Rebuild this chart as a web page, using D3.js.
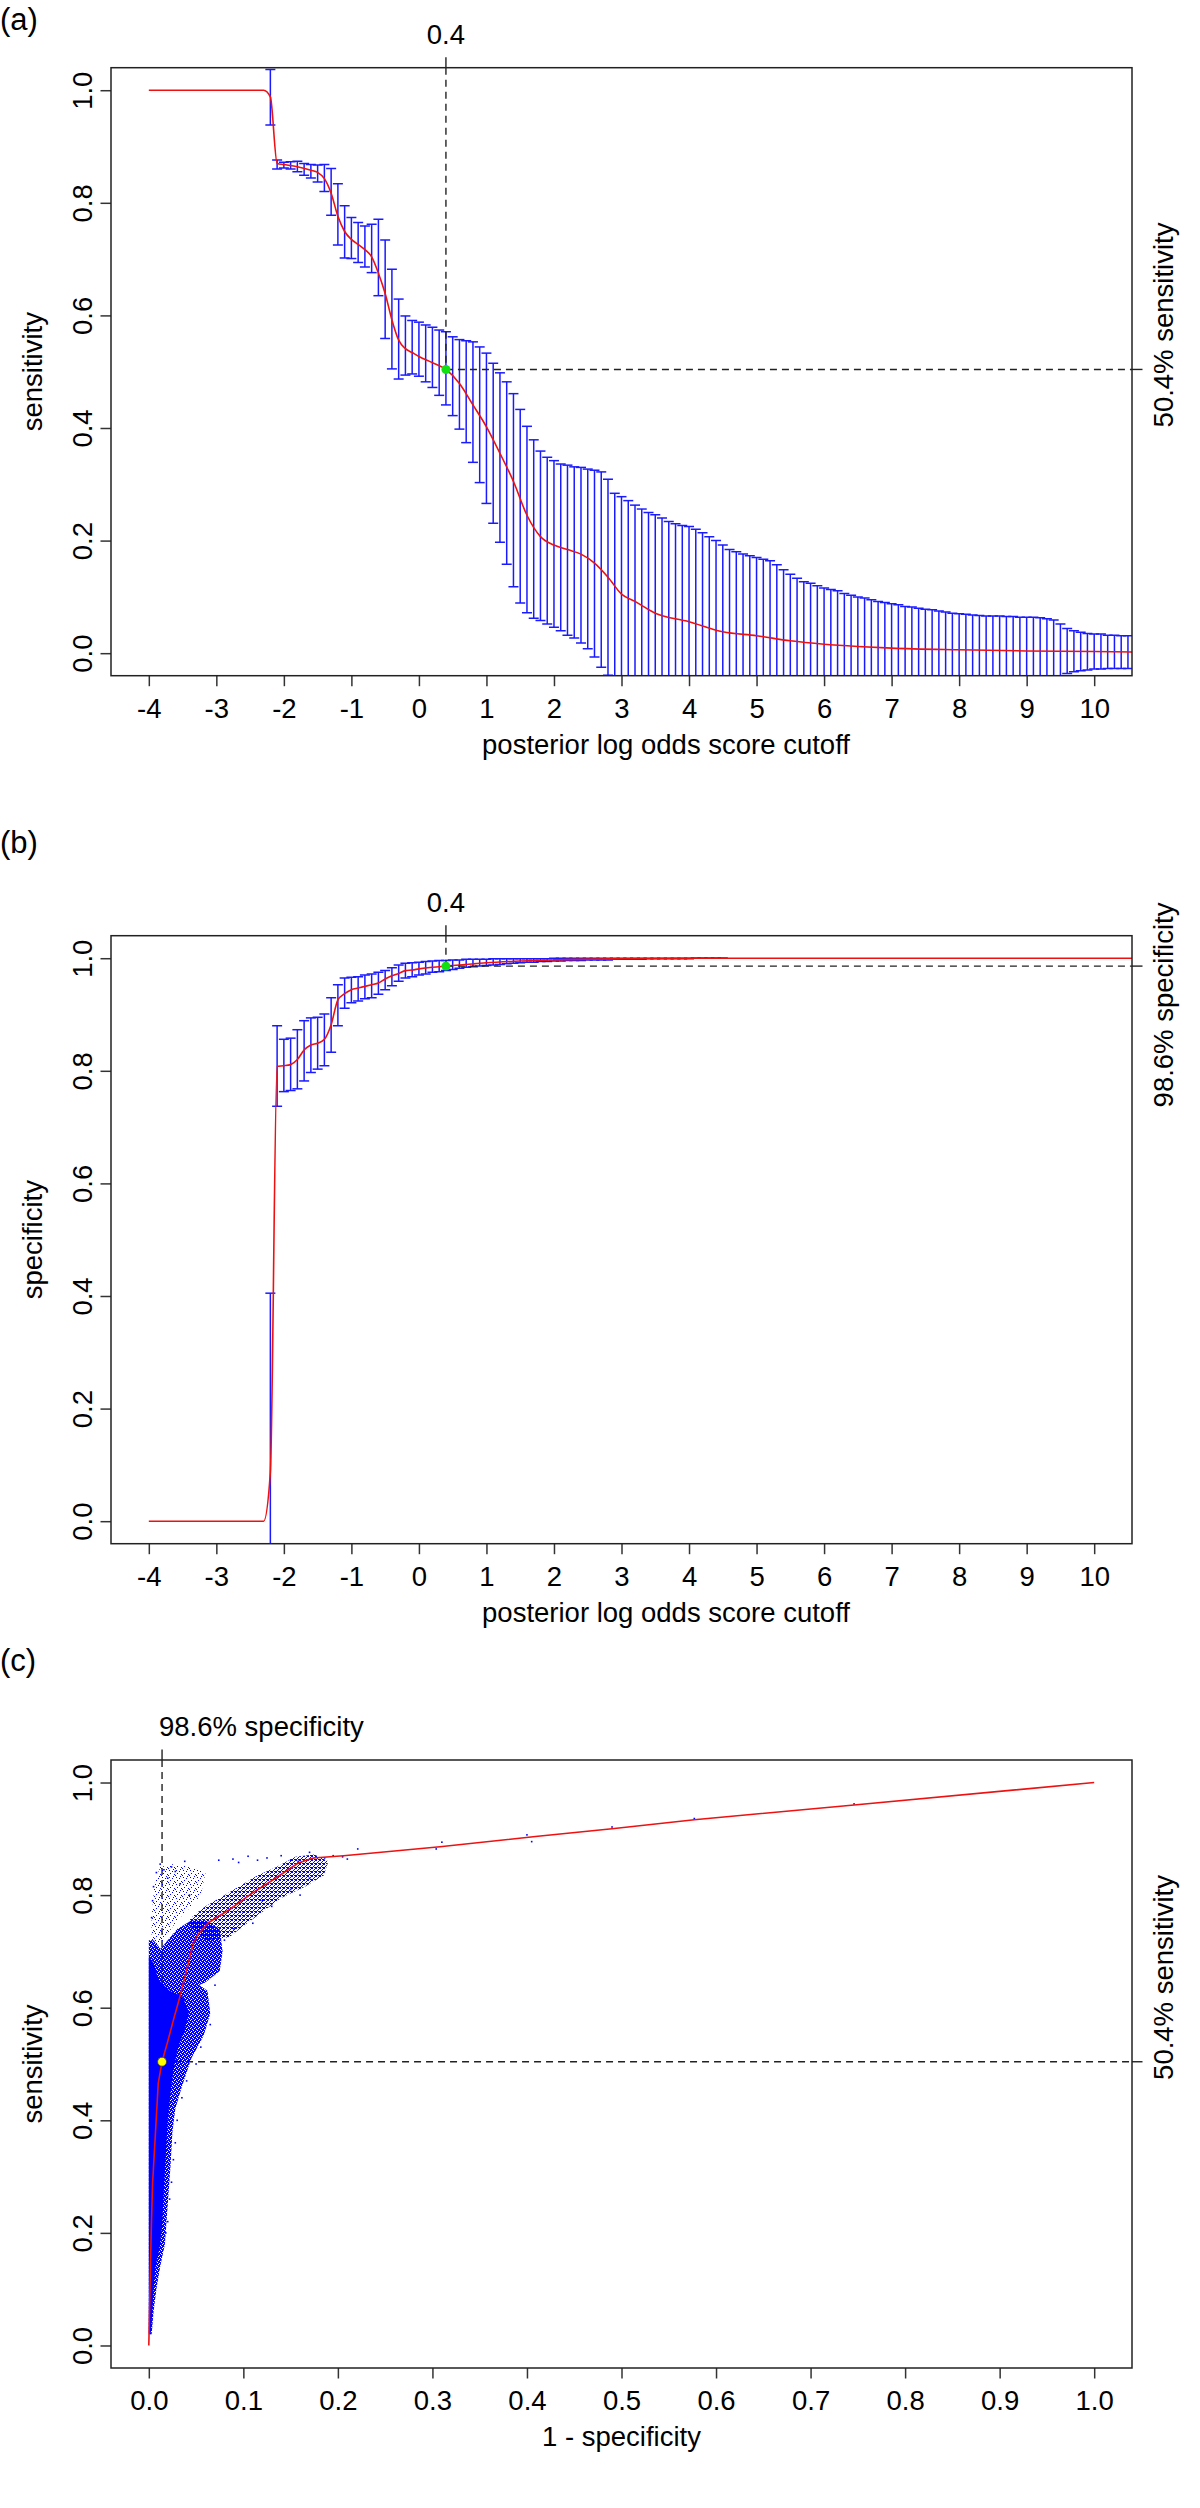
<!DOCTYPE html>
<html><head><meta charset="utf-8">
<script src="https://cdn.jsdelivr.net/npm/d3@7"></script>
<style>body{margin:0;background:#fff} svg{display:block}</style>
</head><body><svg id="chart" width="1200" height="2508"></svg>
<script>
// ---------------- DATA ----------------
// Panel (a): sensitivity vs posterior log odds cutoff
const cutA = [-2.2,-2.1,-2.0,-1.9,-1.8,-1.7,-1.6,-1.5,-1.4,-1.3,-1.2,-1.1,-1.0,-0.9,-0.8,-0.7,-0.6,-0.5,-0.4,-0.3,-0.2,-0.1,0.0,0.1,0.2,0.3,0.4,0.5,0.6,0.7,0.8,0.9,1.0,1.1,1.2,1.3,1.4,1.5,1.6,1.7,1.8,1.9,2.0,2.1,2.2,2.3,2.4,2.5,2.6,2.7,2.8,2.9,3.0,3.1,3.2,3.3,3.4,3.5,3.6,3.7,3.8,3.9,4.0,4.1,4.2,4.3,4.4,4.5,4.6,4.7,4.8,4.9,5.0,5.1,5.2,5.3,5.4,5.5,5.6,5.7,5.8,5.9,6.0,6.1,6.2,6.3,6.4,6.5,6.6,6.7,6.8,6.9,7.0,7.1,7.2,7.3,7.4,7.5,7.6,7.7,7.8,7.9,8.0,8.1,8.2,8.3,8.4,8.5,8.6,8.7,8.8,8.9,9.0,9.1,9.2,9.3,9.4,9.5,9.6,9.7,9.8,9.9,10.0,10.1,10.2,10.3,10.4,10.5];
const upperA = [1.037,0.876,0.872,0.873,0.874,0.870,0.868,0.867,0.868,0.861,
 0.834,0.795,0.774,0.765,0.759,0.762,0.771,0.734,0.682,0.629,
 0.599,0.591,0.588,0.583,0.579,0.574,0.571,0.562,0.557,0.555,
 0.553,0.544,0.533,0.515,0.498,0.482,0.461,0.433,0.403,0.379,
 0.359,0.348,0.342,0.336,0.334,0.331,0.330,0.327,0.325,0.322,
 0.309,0.284,0.278,0.271,0.263,0.256,0.250,0.246,0.240,0.234,
 0.230,0.227,0.225,0.220,0.214,0.207,0.200,0.192,0.184,0.180,
 0.176,0.173,0.170,0.167,0.164,0.157,0.148,0.140,0.133,0.127,
 0.124,0.120,0.116,0.113,0.111,0.106,0.103,0.100,0.098,0.095,
 0.092,0.090,0.088,0.086,0.083,0.082,0.080,0.078,0.077,0.075,
 0.073,0.071,0.070,0.069,0.068,0.067,0.066,0.066,0.066,0.065,
 0.065,0.064,0.064,0.064,0.063,0.061,0.059,0.052,0.044,0.040,
 0.037,0.035,0.034,0.034,0.032,0.032,0.031,0.031];
const lowerA = [0.938,0.860,0.862,0.860,0.855,0.849,0.844,0.837,0.820,0.778,
 0.725,0.702,0.701,0.694,0.686,0.676,0.635,0.559,0.505,0.487,
 0.494,0.496,0.492,0.482,0.472,0.458,0.441,0.422,0.398,0.374,
 0.339,0.303,0.266,0.231,0.197,0.158,0.118,0.089,0.072,0.062,
 0.058,0.052,0.046,0.040,0.032,0.027,0.018,0.008,-0.007,-0.025,
 -0.039,-0.048,-0.068,-0.075,-0.079,-0.086,-0.094,-0.104,-0.106,-0.108,
 -0.110,-0.111,-0.113,-0.115,-0.116,-0.117,-0.118,-0.116,-0.112,-0.112,
 -0.110,-0.109,-0.108,-0.107,-0.108,-0.105,-0.100,-0.096,-0.091,-0.087,
 -0.088,-0.086,-0.084,-0.083,-0.081,-0.078,-0.077,-0.076,-0.076,-0.073,
 -0.072,-0.070,-0.070,-0.069,-0.067,-0.067,-0.066,-0.065,-0.065,-0.064,
 -0.063,-0.062,-0.061,-0.061,-0.061,-0.060,-0.060,-0.060,-0.060,-0.060,
 -0.060,-0.060,-0.060,-0.060,-0.059,-0.058,-0.056,-0.050,-0.036,-0.033,
 -0.031,-0.030,-0.028,-0.028,-0.027,-0.027,-0.027,-0.027];
const meanXA = [-4.0,-2.3,-2.2,-2.1,-2.0,-1.8,-1.6,-1.5,-1.4,-1.3,-1.2,-1.1,-1.0,-0.9,-0.8,-0.7,-0.6,-0.5,-0.4,-0.3,-0.2,-0.1,0.0,0.2,0.4,0.6,0.8,1.0,1.2,1.4,1.6,1.8,2.0,2.2,2.4,2.6,2.8,3.0,3.2,3.5,4.0,4.5,5.0,5.5,6.0,6.5,7.0,8.0,9.0,10.0,10.56];
const meanYA = [1.0,1.0,0.988,0.870,0.868,0.864,0.858,0.854,0.843,0.817,0.776,0.749,0.735,0.726,0.717,0.704,0.675,0.639,0.592,0.556,0.541,0.534,0.527,0.516,0.504,0.479,0.441,0.402,0.355,0.305,0.245,0.207,0.192,0.184,0.176,0.160,0.135,0.105,0.092,0.071,0.056,0.038,0.031,0.022,0.016,0.012,0.009,0.006,0.004,0.003,0.002];

// Panel (b): specificity vs posterior log odds cutoff
const cutB = [-2.2,-2.1,-2.0,-1.9,-1.8,-1.7,-1.6,-1.5,-1.4,-1.3,-1.2,-1.1,-1.0,-0.9,-0.8,-0.7,-0.6,-0.5,-0.4,-0.3,-0.2,-0.1,0.0,0.1,0.2,0.3,0.4,0.5,0.6,0.7,0.8,0.9,1.0,1.1,1.2,1.3,1.4,1.5,1.6,1.7,1.8,1.9,2.0,2.1,2.2,2.3,2.4,2.5,2.6,2.7,2.8,2.9,3.0,3.1,3.2,3.3,3.4,3.5,3.6,3.7,3.8,3.9,4.0,4.1,4.2,4.3,4.4,4.5];
const upperB = [0.405,0.880,0.856,0.858,0.873,0.889,0.894,0.895,0.901,0.930,
 0.953,0.965,0.966,0.967,0.970,0.972,0.975,0.978,0.983,0.988,
 0.991,0.992,0.993,0.994,0.995,0.996,0.996,0.997,0.997,0.998,
 0.998,0.998,0.998,0.999,0.999,0.999,0.999,0.999,0.999,0.999,
 0.999,0.999,1.0,1.0,1.0,1.0,1.0,1.0,1.0,1.0,
 1.0,1.0,1.0,1.0,1.0,1.0,1.0,1.0,1.0,1.0,
 1.0,1.0,1.0,1.0,1.0,1.0,1.0,1.0];
const lowerB = [-0.100,0.737,0.763,0.765,0.768,0.782,0.797,0.803,0.809,0.833,
 0.880,0.911,0.921,0.924,0.928,0.930,0.936,0.944,0.951,0.959,
 0.965,0.967,0.970,0.972,0.975,0.976,0.978,0.980,0.982,0.984,
 0.985,0.986,0.987,0.988,0.989,0.990,0.991,0.992,0.993,0.993,
 0.994,0.994,0.995,0.995,0.996,0.996,0.996,0.997,0.997,0.997,
 0.997,0.998,0.998,0.998,0.998,0.998,0.999,0.999,0.999,0.999,
 0.999,0.999,0.999,1.0,1.0,1.0,1.0,1.0];
const meanXB = [-4.0,-2.3,-2.2,-2.1,-2.0,-1.9,-1.8,-1.7,-1.6,-1.5,-1.4,-1.3,-1.2,-1.1,-1.0,-0.9,-0.8,-0.7,-0.6,-0.5,-0.4,-0.3,-0.2,-0.1,0.0,0.2,0.4,0.6,0.8,1.0,1.5,2.0,3.0,4.0,10.56];
const meanYB = [0,0,0.087,0.808,0.809,0.811,0.820,0.837,0.846,0.849,0.856,0.882,0.926,0.937,0.944,0.947,0.950,0.953,0.956,0.963,0.969,0.973,0.978,0.979,0.981,0.984,0.986,0.988,0.990,0.992,0.995,0.997,0.999,1.0,1.0];

// Panel (c): ROC curve (1 - specificity, sensitivity)
const rocFpr  = [0,0.001,0.0025,0.004,0.007,0.010,0.014,0.020,0.026,0.032,0.040,0.047,0.053,0.063,0.085,0.109,0.134,0.158,0.174,0.206,0.308,0.409,0.490,0.577,0.746,1.0];
const rocSens = [0,0.081,0.200,0.288,0.377,0.466,0.504,0.540,0.578,0.614,0.667,0.715,0.732,0.751,0.774,0.803,0.830,0.857,0.866,0.870,0.886,0.904,0.918,0.934,0.960,1.0];
// bootstrap ROC cloud: outlines of the solid core, dense / medium / sparse point regions, plus stray points
const cloudSolid = [[0,0.02],[0.002,0.02],[0.003,0.04],[0.005,0.10],[0.007,0.14],[0.011,0.17],[0.014,0.21],[0.016,0.28],[0.018,0.34],[0.020,0.40],[0.023,0.45],[0.026,0.49],[0.031,0.53],[0.038,0.56],[0.042,0.59],[0.036,0.62],[0.022,0.63],[0.010,0.65],[0.005,0.68],[0,0.69]];
const cloudDense1 = [[0,0.02],[0.003,0.02],[0.005,0.06],[0.008,0.10],[0.012,0.14],[0.017,0.18],[0.020,0.25],[0.023,0.32],[0.025,0.38],[0.028,0.42],[0.035,0.46],[0.045,0.51],[0.058,0.55],[0.065,0.59],[0.062,0.63],[0.045,0.65],[0.030,0.67],[0.015,0.70],[0.005,0.72],[0,0.72]];
const cloudBlob = [[0.005,0.64],[0.040,0.63],[0.060,0.645],[0.075,0.665],[0.078,0.70],[0.075,0.74],[0.060,0.755],[0.045,0.755],[0.030,0.74],[0.020,0.72],[0.010,0.70]];
const cloudBand = [[0.060,0.72],[0.085,0.725],[0.100,0.745],[0.120,0.77],[0.140,0.795],[0.165,0.815],[0.185,0.835],[0.190,0.86],[0.175,0.872],[0.155,0.868],[0.135,0.85],[0.115,0.835],[0.095,0.815],[0.075,0.795],[0.060,0.78],[0.048,0.765],[0.040,0.75]];
const cloudSparse = [[0.003,0.70],[0.015,0.72],[0.030,0.755],[0.045,0.78],[0.055,0.80],[0.060,0.84],[0.045,0.85],[0.025,0.855],[0.012,0.85],[0.006,0.82],[0.003,0.76]];
const cloudPoints = [[0.005,0.815],[0.008,0.84],[0.012,0.855],[0.016,0.845],[0.020,0.83],[0.024,0.85],[0.028,0.842],[0.033,0.82],[0.038,0.86],[0.043,0.80],[0.003,0.76],[0.004,0.79],
 [0.074,0.862],[0.089,0.864],[0.095,0.858],[0.105,0.869],[0.115,0.862],[0.125,0.866],[0.140,0.870],[0.150,0.862],[0.158,0.860],[0.170,0.876],[0.186,0.866],[0.195,0.870],[0.205,0.868],[0.210,0.864],[0.221,0.882],
 [0.304,0.882],[0.310,0.894],[0.400,0.907],[0.405,0.895],[0.490,0.921],[0.577,0.936],[0.746,0.962],
 [0.100,0.770],[0.120,0.790],[0.080,0.720],[0.090,0.740],[0.110,0.750],[0.130,0.780],[0.150,0.810],[0.160,0.800],[0.170,0.830],[0.060,0.600],[0.065,0.570],[0.070,0.640],[0.055,0.530],[0.050,0.500],[0.040,0.470],[0.035,0.440],[0.030,0.400],[0.028,0.360],[0.026,0.330],[0.024,0.290],[0.022,0.260],[0.020,0.220],[0.018,0.200]];

// Cutoff summary
const chosenCutoff = 0.4, chosenSens = 0.504, chosenSpec = 0.986;
const xTicksCut = [-4,-3,-2,-1,0,1,2,3,4,5,6,7,8,9,10];
const yTicks = [0,0.2,0.4,0.6,0.8,1.0];
const xTicksRoc = [0,0.1,0.2,0.3,0.4,0.5,0.6,0.7,0.8,0.9,1.0];

// ---------------- DRAWING ----------------
const FONT = '"Liberation Sans", Arial, Helvetica, sans-serif';
const FS = 27.5;
const svg = d3.select("#chart").style("font-family", FONT);
svg.append("rect").attr("width",1200).attr("height",2508).attr("fill","#fff");
const defs = svg.append("defs");
function pattern(id, size, dots){
  const p = defs.append("pattern").attr("id",id).attr("patternUnits","userSpaceOnUse").attr("width",size).attr("height",size);
  dots.forEach(([dx,dy]) => p.append("rect").attr("x",dx).attr("y",dy).attr("width",1).attr("height",1)
    .attr("fill","#0000ff").attr("shape-rendering","crispEdges"));
}
pattern("pDense", 4, [[0,0],[1,0],[3,0],[1,1],[2,1],[3,1],[0,2],[2,2],[3,2],[0,3],[1,3],[2,3]]);
pattern("pMed", 4, [[0,0],[2,1],[3,0],[1,2],[3,3],[0,3],[2,3]]);
pattern("pSparse", 7, [[1,1],[4,2],[2,4],[6,5],[5,0],[0,6]]);

const PL = 111, PR = 1132, PH = 608, TICK = 10.5;
const BLUE = "#1a1aff", RED = "#ee1111";

function panel(top, xd, yd, id){
  const x = d3.scaleLinear().domain(xd).range([PL, PR]);
  const y = d3.scaleLinear().domain(yd).range([top+PH, top]);
  defs.append("clipPath").attr("id", id).append("rect").attr("x",PL).attr("y",top).attr("width",PR-PL).attr("height",PH);
  const g = svg.append("g");
  const under = g.append("g").attr("clip-path",`url(#${id})`);
  const plot = g.append("g").attr("clip-path",`url(#${id})`);
  return {x,y,g,plot,under,top};
}

function axes(P, xTicks, xFmt, xTitle, xTitleX, yTitle){
  const {x,y,g,top} = P, bottom = top+PH;
  const ax = g.append("g").attr("transform",`translate(0,${bottom})`)
    .call(d3.axisBottom(x).tickValues(xTicks).tickFormat(xFmt).tickSize(TICK).tickSizeOuter(0));
  ax.attr("font-size",FS).attr("font-family",FONT);
  ax.select(".domain").remove();
  ax.selectAll("line").attr("stroke","#333").attr("stroke-width",1.5);
  ax.selectAll("text").attr("y",42).attr("dy",null).attr("fill","#000");
  const ay = g.append("g").attr("transform",`translate(${PL},0)`)
    .call(d3.axisLeft(y).tickValues(yTicks).tickFormat(d3.format(".1f")).tickSize(TICK).tickSizeOuter(0));
  ay.attr("font-size",FS).attr("font-family",FONT);
  ay.select(".domain").remove();
  ay.selectAll("line").attr("stroke","#333").attr("stroke-width",1.5);
  ay.selectAll("text").attr("x",0).attr("dy",null).attr("text-anchor","middle")
    .attr("transform","translate(-19,0) rotate(-90)").attr("fill","#000");
  g.append("rect").attr("x",PL).attr("y",top).attr("width",PR-PL).attr("height",PH)
    .attr("fill","none").attr("stroke","#222").attr("stroke-width",1.5);
  g.append("text").attr("x",xTitleX).attr("y",bottom+78).attr("text-anchor","middle")
    .attr("font-size",FS).text(xTitle);
  g.append("text").attr("transform",`translate(42,${top+PH/2}) rotate(-90)`).attr("text-anchor","middle")
    .attr("font-size",FS).text(yTitle);
}

function errorBars(P, xs, lo, hi){
  const {x,y,plot} = P;
  const data = xs.map((c,i)=>({c, lo:lo[i], hi:hi[i]}));
  const gb = plot.append("g").attr("stroke",BLUE).attr("stroke-width",1.5);
  gb.selectAll("line.v").data(data).join("line").attr("class","v")
    .attr("x1",d=>x(d.c)).attr("x2",d=>x(d.c)).attr("y1",d=>y(d.lo)).attr("y2",d=>y(d.hi));
  gb.selectAll("line.t").data(data).join("line").attr("class","t")
    .attr("x1",d=>x(d.c)-5).attr("x2",d=>x(d.c)+5).attr("y1",d=>y(d.hi)).attr("y2",d=>y(d.hi));
  gb.selectAll("line.b").data(data).join("line").attr("class","b")
    .attr("x1",d=>x(d.c)-5).attr("x2",d=>x(d.c)+5).attr("y1",d=>y(d.lo)).attr("y2",d=>y(d.lo));
}

function meanLine(P, xs, ys, curve){
  const {x,y,plot} = P;
  plot.append("path").datum(xs.map((v,i)=>[v,ys[i]]))
    .attr("d", d3.line().x(d=>x(d[0])).y(d=>y(d[1])).curve(curve))
    .attr("fill","none").attr("stroke",RED).attr("stroke-width",1.6);
}

function markers(P, layer, px, py, topLabel, topAnchor, topLabelX, rightLabel, rightLabelY){
  const {x,y,g,top} = P;
  const X = x(px), Y = y(py);
  const dash = layer.append("g").attr("stroke","#222").attr("stroke-width",1.4).attr("stroke-dasharray","7,5");
  dash.append("line").attr("x1",X).attr("x2",X).attr("y1",top).attr("y2",Y);
  dash.append("line").attr("x1",X).attr("x2",PR).attr("y1",Y).attr("y2",Y);
  g.append("line").attr("x1",X).attr("x2",X).attr("y1",top-TICK).attr("y2",top).attr("stroke","#222").attr("stroke-width",1.4);
  g.append("line").attr("x1",PR).attr("x2",PR+TICK).attr("y1",Y).attr("y2",Y).attr("stroke","#222").attr("stroke-width",1.4);
  g.append("text").attr("x", topLabelX==null ? X : topLabelX).attr("y",top-24).attr("text-anchor",topAnchor)
    .attr("font-size",FS).text(topLabel);
  g.append("text").attr("transform",`translate(1173,${rightLabelY}) rotate(-90)`).attr("text-anchor","middle")
    .attr("font-size",FS).text(rightLabel);
}

function panelLabel(txt, yBase){
  svg.append("text").attr("x",0).attr("y",yBase).attr("font-size",31).text(txt);
}

// ----- Panel (a)
const A = panel(67.7, [-4.56,10.56], [-0.04,1.04], "clipA");
errorBars(A, cutA, lowerA, upperA);
meanLine(A, meanXA, meanYA, d3.curveMonotoneX);
markers(A, A.plot, chosenCutoff, chosenSens, String(chosenCutoff), "middle", null, "50.4% sensitivity", 325);
A.plot.append("circle").attr("cx",A.x(chosenCutoff)).attr("cy",A.y(chosenSens)).attr("r",4.5).attr("fill","#11e011");
axes(A, xTicksCut, d=>String(d), "posterior log odds score cutoff", 666, "sensitivity");
panelLabel("(a)", 30);

// ----- Panel (b)
const B = panel(935.7, [-4.56,10.56], [-0.04,1.04], "clipB");
errorBars(B, cutB, lowerB, upperB);
meanLine(B, meanXB, meanYB, d3.curveMonotoneX);
markers(B, B.plot, chosenCutoff, chosenSpec, String(chosenCutoff), "middle", null, "98.6% specificity", 1005);
B.plot.append("circle").attr("cx",B.x(chosenCutoff)).attr("cy",B.y(chosenSpec)).attr("r",4.5).attr("fill","#11e011");
axes(B, xTicksCut, d=>String(d), "posterior log odds score cutoff", 666, "specificity");
panelLabel("(b)", 853);

// ----- Panel (c)
const C = panel(1760, [-0.04,1.04], [-0.04,1.04], "clipC");
const cxp = 1 - chosenSpec;
markers(C, C.under, cxp, chosenSens, "98.6% specificity", "start", 159, "50.4% sensitivity", 1977.5);
const poly = d3.line().x(d=>C.x(d[0])).y(d=>C.y(d[1])).curve(d3.curveLinearClosed);
C.plot.append("path").attr("d", poly(cloudSparse)).attr("fill","url(#pSparse)");
C.plot.append("path").attr("d", poly(cloudBand)).attr("fill","url(#pMed)");
C.plot.append("path").attr("d", poly(cloudDense1)).attr("fill","url(#pDense)");
C.plot.append("path").attr("d", poly(cloudBlob)).attr("fill","url(#pDense)");
C.plot.append("path").attr("d", poly(cloudSolid)).attr("fill","#0000ff");
C.plot.selectAll("rect.pt").data(cloudPoints).join("rect").attr("class","pt")
  .attr("x",d=>C.x(d[0])-0.8).attr("y",d=>C.y(d[1])-0.8).attr("width",1.6).attr("height",1.6).attr("fill","#0000ff");
C.plot.append("path").datum(rocFpr.map((v,i)=>[v,rocSens[i]]))
  .attr("d", d3.line().x(d=>C.x(d[0])).y(d=>C.y(d[1])))
  .attr("fill","none").attr("stroke",RED).attr("stroke-width",1.6);
C.plot.append("circle").attr("cx",C.x(cxp)).attr("cy",C.y(chosenSens)).attr("r",4.5)
  .attr("fill","#ffff00").attr("stroke","#333").attr("stroke-width",0.8);
axes(C, xTicksRoc, d3.format(".1f"), "1 - specificity", 621.5, "sensitivity");
panelLabel("(c)", 1671);
</script></body></html>
